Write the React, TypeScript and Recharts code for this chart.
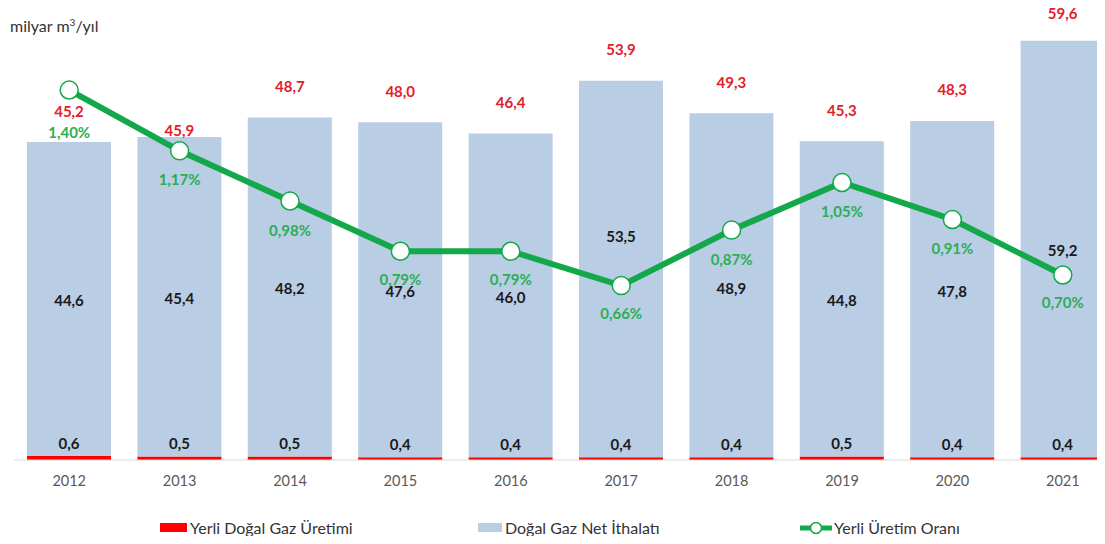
import { ComposedChart, Bar, Line, XAxis, YAxis, LabelList } from "recharts";

const years = ["2012", "2013", "2014", "2015", "2016", "2017", "2018", "2019", "2020", "2021"];
const production = [0.6, 0.5, 0.5, 0.4, 0.4, 0.4, 0.4, 0.5, 0.4, 0.4];
const netImport = [44.6, 45.4, 48.2, 47.6, 46.0, 53.5, 48.9, 44.8, 47.8, 59.2];
const totals = [45.2, 45.9, 48.7, 48.0, 46.4, 53.9, 49.3, 45.3, 48.3, 59.6];
const share = [1.4, 1.17, 0.98, 0.79, 0.79, 0.66, 0.87, 1.05, 0.91, 0.7];

// label nudges, the original labels were moved by hand in a few places
const totalLift = [31, 7, 31, 31, 31, 31, 31, 31, 31, 27];
const importShift = [2, 2, 2, 2, 2, -33, 3, 2, 2, 2];
const shareDrop = [42, 29, 29, 28, 28, 28, 29, 29, 28.5, 27.5];

const data = years.map((y, i) => ({
  year: y,
  prod: production[i],
  imp: netImport[i],
  total: totals[i],
  share: share[i],
}));

const FONT = "Lato, 'Open Sans', sans-serif";
const RED = "#ff0000";
const BLUE = "#b9cde5";
const GREEN = "#13a84a";
const fmt = (v: number, d = 1) => v.toFixed(d).replace(".", ",");

const ProdLabel = (p: any) => (
  <text x={p.x + p.width / 2} y={p.y - 12} dy={5} textAnchor="middle"
    fontFamily={FONT} fontWeight={700} fontSize={15} fill="#1a1a1a">
    {fmt(p.value)}
  </text>
);

const ImportLabel = (p: any) => (
  <text x={p.x + p.width / 2} y={p.y + p.height / 2 + importShift[p.index]} dy={5.5}
    textAnchor="middle" fontFamily={FONT} fontWeight={700} fontSize={15} fill="#1a1a1a">
    {fmt(p.value)}
  </text>
);

const TotalLabel = (p: any) => (
  <text x={p.x + p.width / 2} y={p.y - totalLift[p.index]} dy={5.5} textAnchor="middle"
    fontFamily={FONT} fontWeight={700} fontSize={15} fill="#e3202a">
    {fmt(p.value)}
  </text>
);

const ShareLabel = (p: any) => (
  <text x={p.x} y={p.y + shareDrop[p.index]} dy={5.5} textAnchor="middle"
    fontFamily={FONT} fontWeight={700} fontSize={15} fill="#2bae55">
    {fmt(p.value, 2)}%
  </text>
);

function LegendRow() {
  const txt = { position: "absolute" as const, top: 518, fontFamily: FONT, fontSize: 16, color: "#333" };
  return (
    <>
      <div style={{ position: "absolute", left: 160, top: 523, width: 27, height: 9, background: RED }} />
      <div style={{ ...txt, left: 190 }}>Yerli Doğal Gaz Üretimi</div>
      <div style={{ position: "absolute", left: 478, top: 523, width: 24, height: 9, background: BLUE }} />
      <div style={{ ...txt, left: 505 }}>Doğal Gaz Net İthalatı</div>
      <svg style={{ position: "absolute", left: 798, top: 518 }} width={36} height={20}>
        <line x1={2} y1={10} x2={34} y2={10} stroke={GREEN} strokeWidth={5} />
        <circle cx={18} cy={10} r={5.5} fill="#fff" stroke={GREEN} strokeWidth={1.5} />
      </svg>
      <div style={{ ...txt, left: 834 }}>Yerli Üretim Oranı</div>
    </>
  );
}

export default function App() {
  return (
    <div style={{ position: "relative", margin: -8, width: 1105, height: 544, overflow: "hidden", background: "#fff" }}>
      <ComposedChart width={1125} height={544} data={data}
        margin={{ top: 20, right: 7, left: 14, bottom: 54 }}>
        <XAxis dataKey="year" height={30} tickLine={false}
          axisLine={{ stroke: "#d9d9d9" }} tickMargin={10}
          tick={{ fill: "#595959", fontSize: 14.5, fontFamily: FONT }} />
        <YAxis yAxisId="left" hide domain={[0, 62.55]} />
        <YAxis yAxisId="right" orientation="right" hide domain={[0, 1.665]} />
        <Bar yAxisId="left" dataKey="prod" stackId="a" fill={RED} barSize={84} isAnimationActive={false}>
          <LabelList dataKey="prod" content={ProdLabel} />
        </Bar>
        <Bar yAxisId="left" dataKey="imp" stackId="a" fill={BLUE} barSize={84} isAnimationActive={false}>
          <LabelList dataKey="imp" content={ImportLabel} />
          <LabelList dataKey="total" content={TotalLabel} />
        </Bar>
        <Line yAxisId="right" dataKey="share" stroke={GREEN} strokeWidth={6}
          dot={{ r: 9, fill: "#fff", stroke: GREEN, strokeWidth: 1.5 }}
          activeDot={false} isAnimationActive={false}>
          <LabelList dataKey="share" content={ShareLabel} />
        </Line>
      </ComposedChart>
      <div style={{ position: "absolute", left: 10, top: 16, fontFamily: FONT, fontSize: 16, color: "#333" }}>
        milyar m<sup style={{ fontSize: 10 }}>3</sup>/yıl
      </div>
      <LegendRow />
    </div>
  );
}
